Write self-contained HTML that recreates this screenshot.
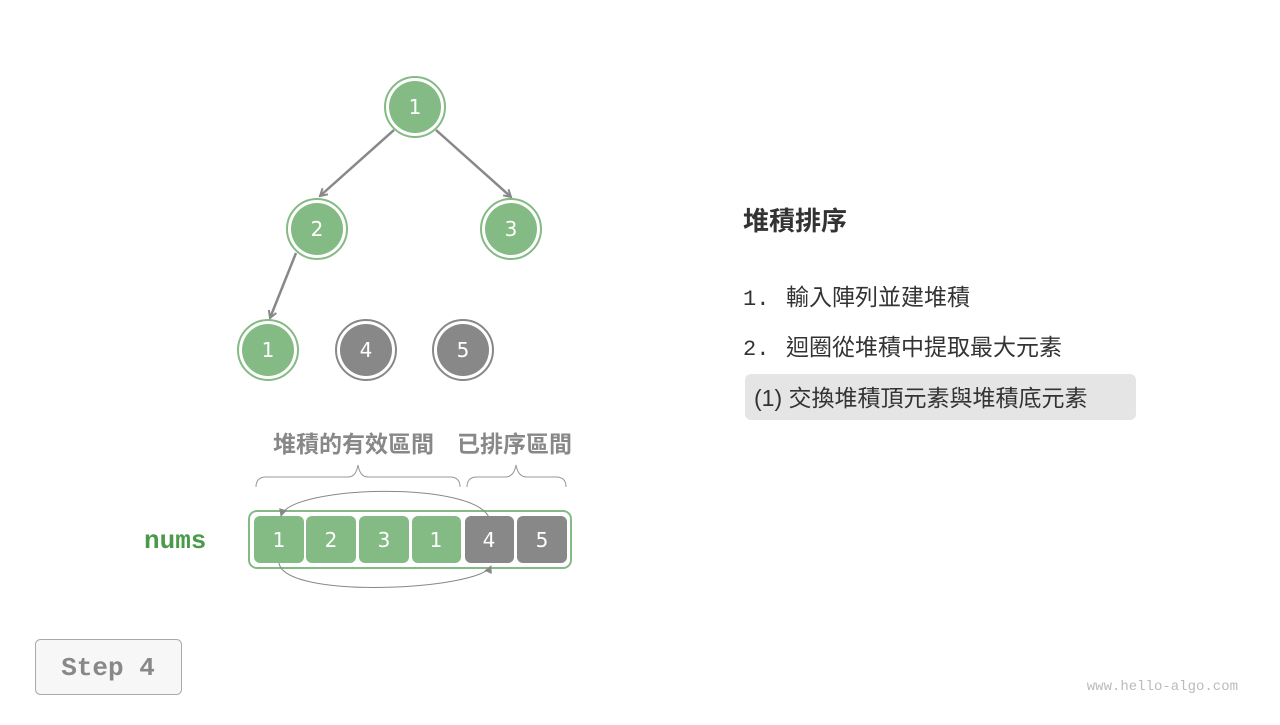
<!DOCTYPE html>
<html><head><meta charset="utf-8"><style>
body{margin:0;width:1280px;height:720px;background:#fff;overflow:hidden}
</style></head><body>
<svg width="1280" height="720" viewBox="0 0 1280 720" xmlns="http://www.w3.org/2000/svg" font-family="'Liberation Sans','Noto Sans CJK TC',sans-serif">
<defs><marker id="a" markerWidth="10" markerHeight="10" refX="8" refY="5" orient="auto" markerUnits="userSpaceOnUse"><path d="M1,1 L8,5 L1,9" fill="none" stroke="#888" stroke-width="2"/></marker>
<marker id="b" markerWidth="8" markerHeight="8" refX="7" refY="4" orient="auto" markerUnits="userSpaceOnUse"><path d="M0,0 L8,4 L0,8z" fill="#888"/></marker></defs>
<g stroke="#888" stroke-width="2.5" fill="none">
<line x1="394" y1="130" x2="320" y2="196" marker-end="url(#a)"/>
<line x1="436" y1="130" x2="511" y2="197" marker-end="url(#a)"/>
<line x1="296" y1="253" x2="270" y2="318" marker-end="url(#a)"/>
</g>
<g font-size="20" fill="#fff" text-anchor="middle" font-family="'DejaVu Sans',sans-serif">
<g fill="#84ba84" stroke="#84ba84" stroke-width="2">
<circle cx="415" cy="107" r="30" fill="#fff"/><circle cx="415" cy="107" r="26" stroke="none"/>
<circle cx="317" cy="229" r="30" fill="#fff"/><circle cx="317" cy="229" r="26" stroke="none"/>
<circle cx="511" cy="229" r="30" fill="#fff"/><circle cx="511" cy="229" r="26" stroke="none"/>
<circle cx="268" cy="350" r="30" fill="#fff"/><circle cx="268" cy="350" r="26" stroke="none"/>
</g>
<g fill="#888" stroke="#888" stroke-width="2">
<circle cx="366" cy="350" r="30" fill="#fff"/><circle cx="366" cy="350" r="26" stroke="none"/>
<circle cx="463" cy="350" r="30" fill="#fff"/><circle cx="463" cy="350" r="26" stroke="none"/>
</g>
<text x="415" y="114">1</text><text x="317" y="236">2</text><text x="511" y="236">3</text>
<text x="268" y="357">1</text><text x="366" y="357">4</text><text x="463" y="357">5</text>
</g>
<g font-size="23" font-weight="bold" fill="#888">
<text x="273" y="452">堆積的有效區間</text><text x="457" y="452">已排序區間</text>
</g>
<g fill="none" stroke="#999" stroke-width="1">
<path d="M256,487 Q256,477 266,477 L348,477 Q356,477 358,465 Q360,477 368,477 L450,477 Q460,477 460,487"/>
<path d="M467,487 Q467,477 477,477 L505,477 Q514,477 516,465 Q518,477 527,477 L556,477 Q566,477 566,487"/>
</g>
<text x="144" y="548" font-size="26" font-weight="bold" fill="#4b9a4b" font-family="'Liberation Mono',monospace">nums</text>
<rect x="249" y="511" width="322" height="57" rx="8" fill="#fff" stroke="#84ba84" stroke-width="2"/>
<g fill="#84ba84"><rect x="254" y="516" width="50" height="47" rx="6"/><rect x="306" y="516" width="50" height="47" rx="6"/><rect x="359" y="516" width="50" height="47" rx="6"/><rect x="412" y="516" width="49" height="47" rx="6"/></g>
<g fill="#888"><rect x="465" y="516" width="49" height="47" rx="6"/><rect x="517" y="516" width="50" height="47" rx="6"/></g>
<g font-size="20" fill="#fff" text-anchor="middle" font-family="'DejaVu Sans',sans-serif">
<text x="279" y="547">1</text><text x="331" y="547">2</text><text x="384" y="547">3</text><text x="436" y="547">1</text><text x="489" y="547">4</text><text x="542" y="547">5</text></g>
<g fill="none" stroke="#888" stroke-width="1">
<path d="M490,520 C480,480 290,485 281,516" marker-end="url(#b)"/>
<path d="M279,563 C285,600 480,590 491,566" marker-end="url(#b)"/>
</g>
<text x="743" y="230" font-size="26" font-weight="bold" fill="#333">堆積排序</text>
<g font-size="23" fill="#333"><text x="743" y="305"><tspan font-family="'Liberation Mono',monospace" font-size="22">1. </tspan><tspan x="786">輸入陣列並建堆積</tspan></text>
<text x="743" y="355"><tspan font-family="'Liberation Mono',monospace" font-size="22">2. </tspan><tspan x="786">迴圈從堆積中提取最大元素</tspan></text></g>
<rect x="745" y="374" width="391" height="46" rx="6" fill="#e5e5e5"/>
<text x="754" y="406" font-size="23" fill="#333">(1) 交換堆積頂元素與堆積底元素</text>
<rect x="35.5" y="639.5" width="146" height="55" rx="5" fill="#f7f7f7" stroke="#aaa"/>
<text x="108" y="675" font-size="26" font-weight="bold" fill="#888" text-anchor="middle" font-family="'Liberation Mono',monospace">Step 4</text>
<text x="1238" y="690" font-size="14" fill="#bbb" text-anchor="end" font-family="'Liberation Mono',monospace">www.hello-algo.com</text>
</svg></body></html>
